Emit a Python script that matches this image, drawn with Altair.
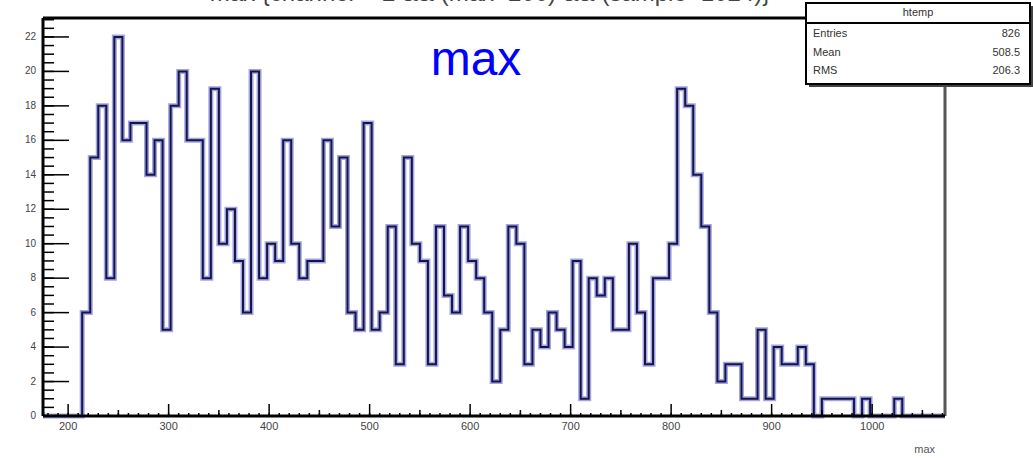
import altair as alt
import pandas as pd

# ---- data ----
first_edge = 214
bin_width = 8
counts = [6, 15, 18, 8, 22, 16, 17, 17, 14, 16,
          5, 18, 20, 16, 16, 8, 19, 10, 12, 9,
          6, 20, 8, 10, 9, 16, 10, 8, 9, 9,
          16, 11, 15, 6, 5, 17, 5, 6, 11, 3,
          15, 10, 9, 3, 11, 7, 6, 11, 9, 8,
          6, 2, 5, 11, 10, 3, 5, 4, 6, 5,
          4, 9, 1, 8, 7, 8, 5, 5, 10, 6,
          3, 8, 8, 10, 19, 18, 14, 11, 6, 2,
          3, 3, 1, 1, 5, 1, 4, 3, 3, 4,
          3, 0, 1, 1, 1, 1, 0, 1, 0, 0, 0, 1]
x_range = [175, 1072.5]
y_range = [0, 23.1]
x_labels = [200, 300, 400, 500, 600, 700, 800, 900, 1000]
y_labels = [0, 2, 4, 6, 8, 10, 12, 14, 16, 18, 20, 22]
x_minor = list(range(180, 1071, 10))
x_mid = list(range(250, 1051, 100))
y_minor = [i * 0.5 for i in range(0, 47)]
stats_names = ["Entries", "Mean", "RMS"]
stats_values = ["826", "508.5", "206.3"]
hist_name = "htemp"
title_text = "max {channel==2 && (max>200) && (sample<1024)}"

edges = [first_edge + bin_width * i for i in range(len(counts))]
pts = [{"x": x_range[0], "y": 0}]
pts += [{"x": e, "y": c} for e, c in zip(edges, counts)]
pts += [{"x": first_edge + bin_width * len(counts), "y": 0}, {"x": x_range[1], "y": 0}]
hist_df = pd.DataFrame(pts)

W, H = 902, 398
FONT = "Liberation Sans"

xs = alt.Scale(domain=x_range, nice=False, zero=False)
ys = alt.Scale(domain=y_range, nice=False, zero=False)

halo = alt.Chart(hist_df).mark_line(interpolate="step-after", color="#9a9ae0",
                                    strokeWidth=5, opacity=0.9).encode(
    x=alt.X("x:Q", scale=xs, axis=None),
    y=alt.Y("y:Q", scale=ys, axis=None),
    order="x:Q")
core = alt.Chart(hist_df).mark_line(interpolate="step-after", color="#15154a",
                                    strokeWidth=2).encode(
    x=alt.X("x:Q", scale=xs, axis=None),
    y=alt.Y("y:Q", scale=ys, axis=None),
    order="x:Q")

def xticks(vals, length, width=1.5):
    return alt.Chart(pd.DataFrame({"t": vals})).mark_rule(color="black", strokeWidth=width).encode(
        x=alt.X("t:Q", scale=xs, axis=None), y=alt.value(H), y2=alt.value(H - length))

def yticks(vals, length, width=1.5):
    return alt.Chart(pd.DataFrame({"t": vals})).mark_rule(color="black", strokeWidth=width).encode(
        y=alt.Y("t:Q", scale=ys, axis=None), x=alt.value(0), x2=alt.value(length))

xlab = alt.Chart(pd.DataFrame({"v": x_labels})).mark_text(
    font=FONT, fontSize=11, color="#444", align="center", baseline="top").encode(
    x=alt.X("v:Q", scale=xs, axis=None), y=alt.value(H + 5), text=alt.Text("v:Q", format="d"))
ylab = alt.Chart(pd.DataFrame({"v": y_labels})).mark_text(
    font=FONT, fontSize=10, color="#444", align="right", baseline="middle").encode(
    y=alt.Y("v:Q", scale=ys, axis=None), x=alt.value(-7), text=alt.Text("v:Q", format="d"))

one = pd.DataFrame({"k": [0]})

frame_top = alt.Chart(one).mark_rule(color="black", strokeWidth=3).encode(
    x=alt.value(0), x2=alt.value(W), y=alt.value(0))
frame_right = alt.Chart(one).mark_rule(color="#555", strokeWidth=3).encode(
    x=alt.value(W), y=alt.value(0), y2=alt.value(H))
frame_left = alt.Chart(one).mark_rule(color="black", strokeWidth=3).encode(
    x=alt.value(0), y=alt.value(0), y2=alt.value(H))
frame_bottom = alt.Chart(one).mark_rule(color="black", strokeWidth=3).encode(
    x=alt.value(0), x2=alt.value(W), y=alt.value(H))

big_max = alt.Chart(one).mark_text(text="max", font=FONT, fontSize=48, color="#0000ff",
                                   align="center", baseline="alphabetic").encode(
    x=alt.value(433), y=alt.value(57))

axis_title = alt.Chart(one).mark_text(text="max", font=FONT, fontSize=11, color="#555",
                                      align="right", baseline="alphabetic").encode(
    x=alt.value(892), y=alt.value(435))

top_title = alt.Chart(one).mark_text(text=title_text, font=FONT, fontSize=24, color="#444",
                                     align="center", baseline="alphabetic").encode(
    x=alt.value(447), y=alt.value(-17))

bx0, bx1, by0, by1 = 763, 987, -15, 66
box_shadow = alt.Chart(one).mark_rect(color="#444").encode(
    x=alt.value(bx0 + 3), x2=alt.value(bx1 + 3), y=alt.value(by0 + 3), y2=alt.value(by1 + 3))
box = alt.Chart(one).mark_rect(fill="white", stroke="black", strokeWidth=2).encode(
    x=alt.value(bx0), x2=alt.value(bx1), y=alt.value(by0), y2=alt.value(by1))
box_sep = alt.Chart(one).mark_rule(color="black", strokeWidth=2).encode(
    x=alt.value(bx0), x2=alt.value(bx1), y=alt.value(5))
box_head = alt.Chart(one).mark_text(text=hist_name, font=FONT, fontSize=11, color="#333",
                                    align="center", baseline="middle").encode(
    x=alt.value((bx0 + bx1) / 2), y=alt.value(-5))

stats_df = pd.DataFrame({"name": stats_names, "val": stats_values, "row": [0, 1, 2]})
row_scale = alt.Scale(domain=[0, 2], range=[16, 53])
stats_names_l = alt.Chart(stats_df).mark_text(font=FONT, fontSize=11, color="#333",
                                              align="left", baseline="middle").encode(
    x=alt.value(bx0 + 7), y=alt.Y("row:Q", scale=row_scale, axis=None), text="name:N")
stats_vals_l = alt.Chart(stats_df).mark_text(font=FONT, fontSize=11, color="#333",
                                             align="right", baseline="middle").encode(
    x=alt.value(bx1 - 10), y=alt.Y("row:Q", scale=row_scale, axis=None), text="val:N")

stats_layer = alt.layer(box_shadow, box, box_sep, box_head, stats_names_l, stats_vals_l).resolve_scale(y="independent")

chart = alt.layer(
    top_title,
    halo, core,
    xticks(x_minor, 3), xticks(x_mid, 6), xticks(x_labels, 12),
    yticks(y_minor, 11), yticks(y_labels, 26),
    frame_top, frame_right, frame_left, frame_bottom,
    xlab, ylab,
    big_max, axis_title,
).properties(width=W, height=H)

full = alt.layer(chart, stats_layer).resolve_scale(y="independent").properties(
    width=W, height=H,
    autosize=alt.AutoSizeParams(type="none"),
    padding={"left": 43, "top": 18, "right": 88, "bottom": 42},
    background="white",
).configure_view(stroke=None)

full.save("out.html", embed_options={"renderer": "svg", "actions": False})
